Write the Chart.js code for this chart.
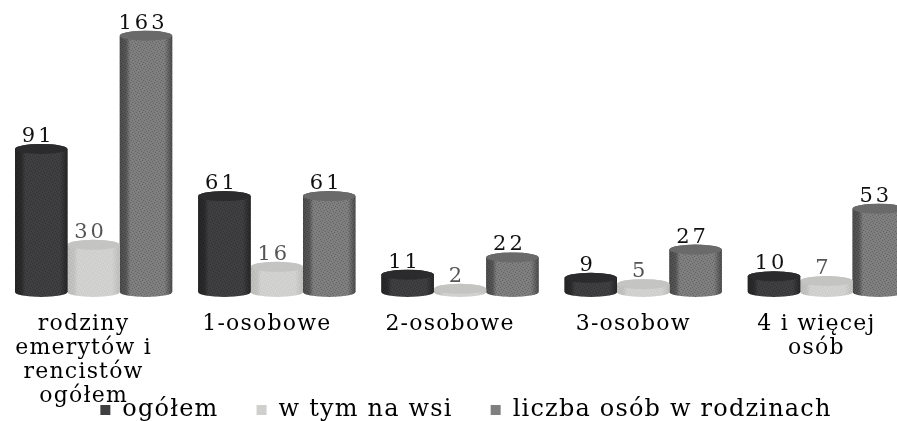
<!DOCTYPE html>
<html lang="pl"><head><meta charset="utf-8">
<script src="https://cdn.jsdelivr.net/npm/chart.js@4"></script>
<style>
html,body{margin:0;padding:0;background:#fff;overflow:hidden;width:897px;height:421px}
#wrap{width:897px;height:421px;overflow:hidden;position:relative}
canvas{display:block;filter:blur(0.5px)}
</style></head><body>
<div id="wrap"><canvas id="c" width="918" height="421"></canvas></div>
<script>
const categories = [["rodziny","emerytów i","rencistów","ogółem"],"1-osobowe","2-osobowe","3-osobow",["4 i więcej","osób"]];
const seriesNames = ["ogółem","w tym na wsi","liczba osób w rodzinach"];
const ogolem = [91,61,11,9,10];
const naWsi = [30,16,2,5,7];
const liczbaOsob = [163,61,22,27,53];
const colors = ["#3f3f41","#cfcfcd","#7f7f7f"];
const topColors = ["#2b2b2d","#c4c4c2","#6a6a6a"];
const labelColors = ["#111111","#555555","#111111"];
const serif = "'DejaVu Serif', serif";

function hatch(ctx, dark){
  const t=document.createElement('canvas');t.width=6;t.height=6;
  const g=t.getContext('2d');
  g.fillStyle=dark?'rgba(0,0,0,.22)':'rgba(255,255,255,.2)';
  [[0,0],[3,1],[1,3],[4,4],[2,5],[5,2]].forEach(p=>g.fillRect(p[0],p[1],1,1));
  return ctx.createPattern(t,'repeat');
}
const cylinders = {
  id:'cylinders',
  beforeLayout(chart){ chart.ctx.letterSpacing='1.2px'; },
  beforeDraw(chart){ chart.ctx.letterSpacing='1.2px'; },
  afterDatasetDraw(chart,args){
    const ctx=chart.ctx, i=args.index, meta=args.meta;
    const ry=5;
    meta.data.forEach(bar=>{
      const p=bar.getProps(['x','y','base','width'],true);
      const l=p.x-p.width/2, r=p.x+p.width/2, rx=p.width/2;
      ctx.save();
      ctx.beginPath();
      ctx.moveTo(l,p.y);
      ctx.lineTo(l,p.base);
      ctx.ellipse(p.x,p.base,rx,ry,0,Math.PI,0,true);
      ctx.lineTo(r,p.y);
      ctx.ellipse(p.x,p.y,rx,ry,0,0,Math.PI,true);
      ctx.closePath();
      ctx.fillStyle=colors[i];ctx.fill();
      const g=ctx.createLinearGradient(l,0,r,0);
      const a=i===1?.1:.4;
      g.addColorStop(0,`rgba(0,0,0,${a})`);
      g.addColorStop(.12,`rgba(0,0,0,${a*.8})`);
      g.addColorStop(.2,'rgba(0,0,0,0)');
      g.addColorStop(.85,'rgba(0,0,0,0)');
      g.addColorStop(1,`rgba(0,0,0,${a})`);
      ctx.fillStyle=g;ctx.fill();
      ctx.fillStyle=hatch(ctx,i!==1);ctx.fill();
      ctx.beginPath();
      ctx.ellipse(p.x,p.y,rx,ry,0,0,Math.PI*2);
      ctx.fillStyle=topColors[i];ctx.fill();
      ctx.restore();
    });
  },
  afterDatasetsDraw(chart){
    const ctx=chart.ctx;
    chart.data.datasets.forEach((ds,i)=>{
      chart.getDatasetMeta(i).data.forEach((bar,j)=>{
        const p=bar.getProps(['x','y'],true);
        ctx.save();
        ctx.font="21px "+serif;
        ctx.letterSpacing='3px';
        ctx.fillStyle=labelColors[i];
        ctx.textAlign='center';ctx.textBaseline='bottom';
        ctx.fillText(String(ds.data[j]),p.x-3,p.y-2);
        ctx.restore();
      });
    });
  },
  afterLayout(chart){
    const lg=chart.legend, h=lg.bottom-lg.top;
    lg.left+=6;lg.right+=6;
    lg.top=360;lg.bottom=360+h;
    chart.scales.x.height=125;
    chart.scales.x.bottom=chart.scales.x.top+125;
  }
};
new Chart(document.getElementById('c'),{
  type:'bar',
  plugins:[cylinders],
  data:{labels:categories,datasets:[
    {label:seriesNames[0],data:ogolem,backgroundColor:colors[0]},
    {label:seriesNames[1],data:naWsi,backgroundColor:colors[1]},
    {label:seriesNames[2],data:liczbaOsob,backgroundColor:colors[2]}
  ]},
  options:{
    responsive:false,animation:false,
    layout:{padding:{left:2,right:0,top:9,bottom:-12}},
    datasets:{bar:{barPercentage:1,categoryPercentage:.858}},
    plugins:{
      tooltip:{enabled:false},
      legend:{position:'bottom',labels:{boxWidth:10,boxHeight:10,padding:38,color:'#000000',font:{family:serif,size:24}}}
    },
    scales:{
      x:{
        grid:{display:false,drawTicks:false},border:{display:false},
        ticks:{color:'#000000',font:{family:serif,size:22,lineHeight:1.09},padding:20,maxRotation:0,autoSkip:false,labelOffset:-10},
        afterFit(s){s.height=69;}
      },
      y:{display:false,min:0,max:180}
    }
  }
});
</script>
</body></html>
